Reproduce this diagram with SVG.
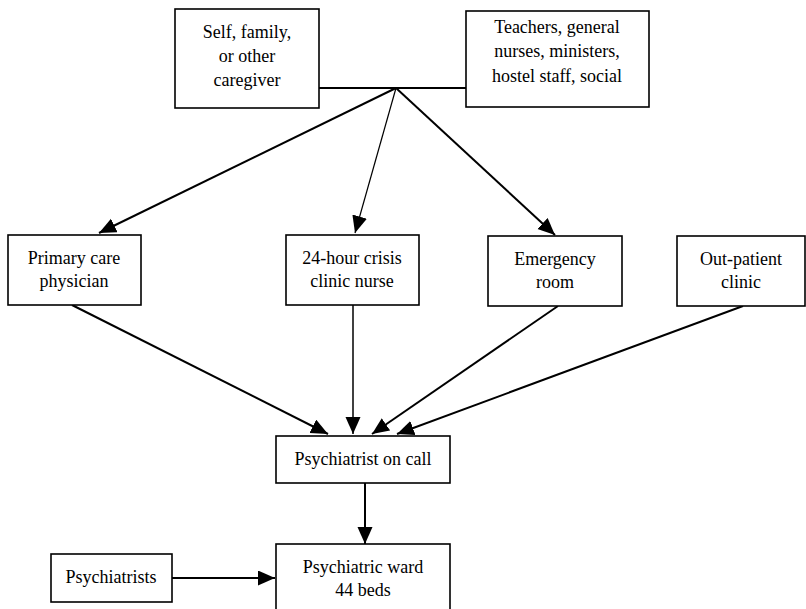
<svg xmlns="http://www.w3.org/2000/svg" width="806" height="609" viewBox="0 0 806 609">
<style>
.box{fill:#fff;stroke:#000;stroke-width:1.6}
text{font-family:'Liberation Serif','DejaVu Serif',serif;font-size:18px;fill:#000;text-anchor:middle}
.c{stroke:#000;stroke-width:2;fill:none}
.thin{stroke-width:1.2}
</style>
<defs>
<marker id="ah" markerUnits="userSpaceOnUse" markerWidth="18" markerHeight="16" refX="17" refY="7.5" orient="auto">
<path d="M0,0 L17,7.5 L0,15 z" fill="#000"/>
</marker>
</defs>
<rect width="806" height="609" fill="#fff"/>
<g id="connectors">
<line class="c" x1="319" y1="88" x2="466" y2="88"/>
<line class="c" x1="396" y1="88" x2="99" y2="233" marker-end="url(#ah)"/>
<line class="c thin" x1="396" y1="88" x2="355" y2="233" marker-end="url(#ah)"/>
<line class="c" x1="396" y1="88" x2="555" y2="235" marker-end="url(#ah)"/>
<line class="c" x1="72" y1="305" x2="328" y2="434" marker-end="url(#ah)"/>
<line class="c" x1="353" y1="305" x2="353" y2="434" marker-end="url(#ah)" style="stroke-width:1.5"/>
<line class="c" x1="558" y1="306" x2="372" y2="434" marker-end="url(#ah)"/>
<line class="c" x1="743" y1="306" x2="397" y2="434" marker-end="url(#ah)"/>
<line class="c" x1="365" y1="483" x2="365" y2="544" marker-end="url(#ah)"/>
<line class="c" x1="172" y1="578" x2="275" y2="578" marker-end="url(#ah)"/>
</g>
<g id="self">
<rect class="box" x="175" y="9" width="144" height="99"/>
<text font-family="Liberation Serif" x="247" y="38">Self, family,</text>
<text font-family="Liberation Serif" x="247" y="62">or other</text>
<text font-family="Liberation Serif" x="247" y="86">caregiver</text>
</g>
<g id="teachers">
<rect class="box" x="466" y="11" width="183" height="96"/>
<text x="557" y="33">Teachers, general</text>
<text x="557" y="57">nurses, ministers,</text>
<text x="557" y="82">hostel staff, social</text>
</g>
<g id="primary">
<rect class="box" x="8" y="235" width="133" height="70"/>
<text x="74" y="264">Primary care</text>
<text x="74" y="287">physician</text>
</g>
<g id="crisis">
<rect class="box" x="286" y="235" width="133" height="70"/>
<text x="352" y="264">24-hour crisis</text>
<text x="352" y="287">clinic nurse</text>
</g>
<g id="emergency">
<rect class="box" x="488" y="236" width="134" height="70"/>
<text x="555" y="265">Emergency</text>
<text x="555" y="288">room</text>
</g>
<g id="outpatient">
<rect class="box" x="677" y="236" width="128" height="70"/>
<text x="741" y="265">Out-patient</text>
<text x="741" y="288">clinic</text>
</g>
<g id="oncall">
<rect class="box" x="276" y="436" width="174" height="47"/>
<text x="363" y="465">Psychiatrist on call</text>
</g>
<g id="ward">
<rect class="box" x="276" y="544" width="174" height="75"/>
<text x="363" y="573">Psychiatric ward</text>
<text x="363" y="596">44 beds</text>
</g>
<g id="psychiatrists">
<rect class="box" x="51" y="554" width="121" height="48"/>
<text x="111" y="583">Psychiatrists</text>
</g>
</svg>
